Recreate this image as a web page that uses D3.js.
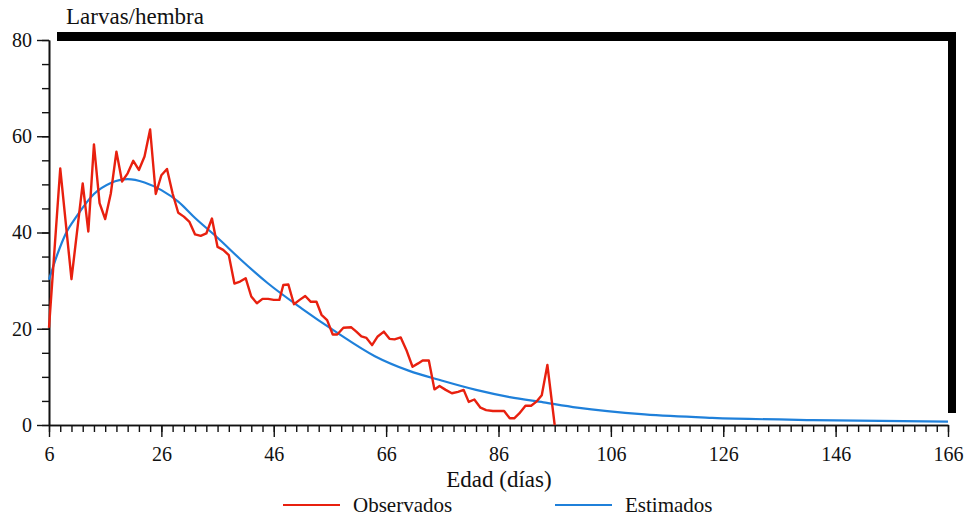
<html>
<head>
    <style>
        body { margin: 0; background: #fff; }
        text { font-family: "Liberation Serif", "Times New Roman", serif; fill: #111; }
    </style>
    <script src="https://cdn.jsdelivr.net/npm/d3@7"></script>
</head>
<body>
    <svg id="container" width="971" height="518"></svg>
</body>
<script>
    // observados: edad (dias) y larvas/hembra
    let obsDias = [6, 8, 10, 12, 13, 14, 15, 16, 17, 18, 19, 20, 21, 22, 23, 24, 25, 26, 27, 28,
        29, 30, 31, 32, 33, 34, 35, 36, 37, 38, 39, 40, 41, 42, 43, 44, 45, 46, 47, 47.7,
        48.6, 49.6, 50.6, 51.6, 52.6, 53.6, 54.5, 55.5, 56.5, 57.3, 58.4, 59.8, 60.7, 61.6, 62.5, 63.5,
        64.5, 65.6, 66.6, 67.5, 68.6, 69.6, 70.7, 71.7, 72.5, 73.6, 74.6, 75.5, 76.6, 77.7, 78.8, 79.8,
        80.7, 81.7, 82.8, 83.8, 85, 86, 87, 88, 88.8, 89.7, 90.8, 91.8, 92.7, 93.7, 94.7, 96]
    let obsLarvas = [20.2, 53.3, 30.3, 50.2, 40.2, 58.3, 46.1, 42.8, 48.1, 56.8, 50.6, 52.3, 54.9, 53, 55.8, 61.4, 48, 51.9, 53.2, 48.1,
        44.1, 43.3, 42.2, 39.6, 39.3, 39.8, 42.9, 37, 36.4, 35.3, 29.4, 29.8, 30.5, 26.7, 25.3, 26.2, 26.2, 26, 26, 29.1,
        29.2, 25.1, 26, 26.8, 25.6, 25.6, 22.9, 21.8, 18.8, 18.8, 20.2, 20.3, 19.4, 18.4, 18.1, 16.6,
        18.4, 19.4, 17.9, 17.8, 18.2, 15.6, 12.1, 12.8, 13.4, 13.4, 7.4, 8.1, 7.3, 6.6, 6.9, 7.3,
        4.8, 5.3, 3.6, 3.1, 2.9, 2.9, 2.9, 1.4, 1.4, 2.4, 4.0, 4.0, 4.8, 6.2, 12.5, 0]

    // estimados: puntos leidos de la curva azul
    let estDias = [6, 7.5, 9, 11, 14, 17, 20, 23, 26, 29, 32, 36, 40, 45, 51, 57, 64, 70, 76, 82, 88, 94, 100, 112, 124, 142, 166]
    let estLarvas = [30.2, 35.5, 39.8, 43.5, 48, 50.3, 51.1, 50.4, 48.8, 46.4, 43.0, 38.9, 34.5, 29.4, 24.2, 19.4, 14.3, 11.3, 9.2, 7.3, 5.8, 4.7, 3.6, 2.2, 1.5, 1.0, 0.7]

    let xTicks = [6, 26, 46, 66, 86, 106, 126, 146, 166]
    let yTicks = [0, 20, 40, 60, 80]

    let svg = d3.select("#container")

    let x = d3.scaleLinear().domain([6, 166]).range([49, 948])
    let y = d3.scaleLinear().domain([0, 80]).range([425, 40])

    let obs = obsDias.map((d, i) => ({ dia: d, v: obsLarvas[i] }))
    let est = estDias.map((d, i) => ({ dia: d, v: estLarvas[i] }))

    // marco grueso arriba y a la derecha
    svg.append("rect")
        .attr("x", x(6) + 8).attr("y", y(80) - 8)
        .attr("width", x(166) + 8 - (x(6) + 8)).attr("height", 9)
        .attr("fill", "#000")
    svg.append("rect")
        .attr("x", x(166)).attr("y", y(80) - 8)
        .attr("width", 8).attr("height", y(0) - 12 - (y(80) - 8))
        .attr("fill", "#000")

    // ejes: ticks menores y mayores
    svg.append("g").attr("transform", "translate(" + x(6) + ",0)")
        .call(d3.axisLeft(y).tickValues(d3.range(0, 81, 5)).tickSize(7).tickFormat("").tickSizeOuter(0))
    svg.append("g").attr("transform", "translate(" + x(6) + ",0)")
        .call(d3.axisLeft(y).tickValues(yTicks).tickSize(12).tickPadding(5).tickSizeOuter(0))

    svg.append("g").attr("transform", "translate(0," + y(0) + ")")
        .call(d3.axisBottom(x).tickValues(d3.range(6, 167, 2)).tickSize(7).tickFormat("").tickSizeOuter(0))
    svg.append("g").attr("transform", "translate(0," + y(0) + ")")
        .call(d3.axisBottom(x).tickValues(xTicks).tickSize(12).tickPadding(10).tickSizeOuter(0))

    svg.selectAll(".domain").attr("stroke", "#111").attr("stroke-width", 1.6)
    svg.selectAll(".tick line").attr("stroke", "#111").attr("stroke-width", 1.4)
    svg.selectAll(".tick text")
        .attr("font-family", "Liberation Serif, serif")
        .attr("font-size", 20)
        .attr("fill", "#111")

    // lineas
    svg.append("path")
        .datum(est)
        .attr("d", d3.line().x(d => x(d.dia)).y(d => y(d.v)).curve(d3.curveMonotoneX))
        .attr("fill", "none")
        .attr("stroke", "#1f80da")
        .attr("stroke-width", 2.2)

    svg.append("path")
        .datum(obs)
        .attr("d", d3.line().x(d => x(d.dia)).y(d => y(d.v)))
        .attr("fill", "none")
        .attr("stroke", "#e8200f")
        .attr("stroke-width", 2.4)
        .attr("stroke-linejoin", "round")

    // textos
    svg.append("text").attr("x", 66).attr("y", 24)
        .attr("font-size", 23).text("Larvas/hembra")
    svg.append("text").attr("x", 499).attr("y", 487)
        .attr("text-anchor", "middle").attr("font-size", 23).text("Edad (días)")

    // leyenda
    let legend = [
        { nombre: "Observados", color: "#e8200f", x: 283 },
        { nombre: "Estimados", color: "#1f80da", x: 555 }
    ]
    let lg = svg.selectAll(".leg").data(legend).enter().append("g")
        .attr("transform", d => "translate(" + d.x + ",505)")
    lg.append("line").attr("x1", 0).attr("x2", 57).attr("y1", 0).attr("y2", 0)
        .attr("stroke", d => d.color).attr("stroke-width", 2)
    lg.append("text").attr("x", 70).attr("y", 7).attr("font-size", 21).text(d => d.nombre)
</script>
</html>
